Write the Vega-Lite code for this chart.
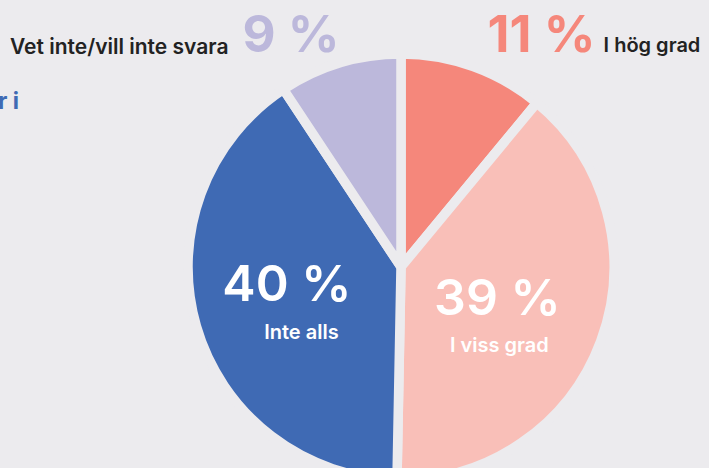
{
  "$schema": "https://vega.github.io/schema/vega-lite/v6.json",
  "width": 802,
  "height": 534,
  "autosize": {"type": "none"},
  "padding": 0,
  "background": "#ECEBEE",
  "config": {"view": {"stroke": null}, "font": "Inter"},
  "title": {"text": "r i", "anchor": "start", "frame": "group", "offset": -132, "baseline": "alphabetic", "dx": -2, "fontSize": 23, "fontWeight": 700, "color": "#3F6AB4", "font": "Inter"},
  "data": {
    "values": [
      {"cat": "I hög grad", "value": 11.0, "label": "11 %", "idx": 1},
      {"cat": "I viss grad", "value": 39.3, "label": "39 %", "idx": 2},
      {"cat": "Inte alls", "value": 40.4, "label": "40 %", "idx": 3},
      {"cat": "Vet inte/vill inte svara", "value": 9.3, "label": "9 %", "idx": 4}
    ]
  },
  "encoding": {
    "theta": {"field": "value", "type": "quantitative", "stack": true},
    "order": {"field": "idx", "type": "quantitative"}
  },
  "layer": [
    {
      "mark": {"type": "arc", "outerRadius": 213, "stroke": "#ECEBEE", "strokeWidth": 9.5, "strokeJoin": "round"},
      "encoding": {
        "color": {
          "field": "cat", "type": "nominal", "legend": null,
          "scale": {"domain": ["I hög grad", "I viss grad", "Inte alls", "Vet inte/vill inte svara"], "range": ["#F5877B", "#F9BFB8", "#3F6AB4", "#BCB8DB"]}
        }
      }
    },
    {
      "mark": {"type": "text", "radius": 118.8, "dy": 1, "fontSize": 50, "fontWeight": 600, "color": "#FFFFFF", "align": "center", "baseline": "alphabetic"},
      "encoding": {"text": {"condition": {"test": "datum.cat === 'Inte alls'", "field": "label", "type": "nominal"}, "value": ""}}
    },
    {
      "mark": {"type": "text", "radius": 103.7, "dy": 43, "fontSize": 20, "fontWeight": 600, "color": "#FFFFFF", "align": "center", "baseline": "alphabetic"},
      "encoding": {"text": {"condition": {"test": "datum.cat === 'Inte alls'", "field": "cat", "type": "nominal"}, "value": ""}}
    },
    {
      "mark": {"type": "text", "radius": 102.8, "dy": 12, "fontSize": 50, "fontWeight": 600, "color": "#FFFFFF", "align": "center", "baseline": "alphabetic"},
      "encoding": {"text": {"condition": {"test": "datum.cat === 'I viss grad'", "field": "label", "type": "nominal"}, "value": ""}}
    },
    {
      "mark": {"type": "text", "radius": 104.9, "dy": 49, "fontSize": 20, "fontWeight": 600, "color": "#FFFFFF", "align": "center", "baseline": "alphabetic"},
      "encoding": {"text": {"condition": {"test": "datum.cat === 'I viss grad'", "field": "cat", "type": "nominal"}, "value": ""}}
    },
    {
      "mark": {"type": "text", "radius": 229, "dx": 9, "dy": 0, "fontSize": 51, "fontWeight": 700, "color": "#F5877B", "align": "left", "baseline": "alphabetic"},
      "encoding": {"text": {"condition": {"test": "datum.cat === 'I hög grad'", "field": "label", "type": "nominal"}, "value": ""}}
    },
    {
      "mark": {"type": "text", "radius": 229, "dx": 125, "dy": 0, "fontSize": 20, "fontWeight": 600, "color": "#222222", "align": "left", "baseline": "alphabetic"},
      "encoding": {"text": {"condition": {"test": "datum.cat === 'I hög grad'", "field": "cat", "type": "nominal"}, "value": ""}}
    },
    {
      "mark": {"type": "text", "radius": 224.1, "dx": 3, "dy": 0, "fontSize": 51, "fontWeight": 700, "color": "#BCB8DB", "align": "right", "baseline": "alphabetic"},
      "encoding": {"text": {"condition": {"test": "datum.cat === 'Vet inte/vill inte svara'", "field": "label", "type": "nominal"}, "value": ""}}
    },
    {
      "mark": {"type": "text", "radius": 224.1, "dx": -108, "dy": 2, "fontSize": 21, "fontWeight": 600, "color": "#222222", "align": "right", "baseline": "alphabetic"},
      "encoding": {"text": {"condition": {"test": "datum.cat === 'Vet inte/vill inte svara'", "field": "cat", "type": "nominal"}, "value": ""}}
    }
  ]
}
